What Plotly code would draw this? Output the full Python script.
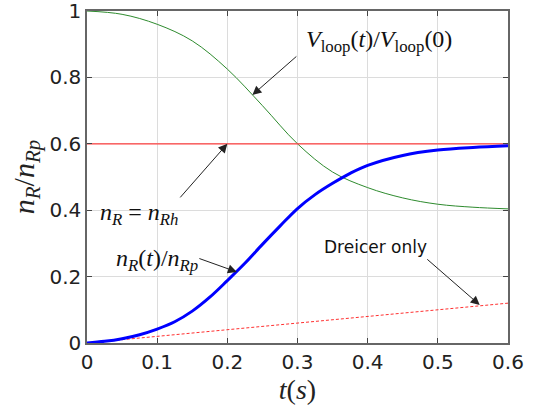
import plotly.graph_objects as go

t_v = [0, 0.05, 0.1, 0.15, 0.2, 0.25, 0.3, 0.35, 0.4, 0.45, 0.5, 0.55, 0.6]
vloop = [1.0, 0.99, 0.96, 0.91, 0.825, 0.715, 0.60, 0.515, 0.468, 0.437, 0.418, 0.409, 0.404]
t_n = [0, 0.025, 0.05, 0.075, 0.1, 0.125, 0.15, 0.175, 0.2, 0.225, 0.25, 0.275, 0.3,
       0.325, 0.35, 0.375, 0.4, 0.45, 0.5, 0.55, 0.6]
nR = [0.0, 0.005, 0.013, 0.025, 0.042, 0.064, 0.096, 0.138, 0.188, 0.240, 0.297, 0.352, 0.405,
      0.447, 0.481, 0.511, 0.535, 0.565, 0.581, 0.589, 0.594]
t_line = [0, 0.6]
nRh = [0.6, 0.6]
dreicer = [0.0, 0.12]

xticks = [0, 0.1, 0.2, 0.3, 0.4, 0.5, 0.6]
yticks = [0, 0.2, 0.4, 0.6, 0.8, 1]

MATH = "Liberation Serif"
TICKF = "DejaVu Sans"

fig = go.Figure()
fig.add_trace(go.Scatter(x=t_v, y=vloop, mode="lines", line=dict(color="#2e8b2e", width=1, shape="spline"), hoverinfo="skip"))
fig.add_trace(go.Scatter(x=t_line, y=nRh, mode="lines", line=dict(color="#ff4040", width=1.2), hoverinfo="skip"))
fig.add_trace(go.Scatter(x=t_line, y=dreicer, mode="lines", line=dict(color="#ff3030", width=1, dash="3px,2px"), hoverinfo="skip"))
fig.add_trace(go.Scatter(x=t_n, y=nR, mode="lines", line=dict(color="#0000ff", width=3, shape="spline"), hoverinfo="skip"))

def arrow(x, y, ax, ay):
    fig.add_annotation(x=x, y=y, ax=ax, ay=ay, xref="x", yref="y", axref="x", ayref="y",
                       text="", showarrow=True, arrowhead=2, arrowsize=1.8, arrowwidth=1,
                       arrowcolor="#222")

def label(x, y, text, font, size):
    fig.add_annotation(x=x, y=y, xref="x", yref="y", text=text, showarrow=False,
                       font=dict(family=font, size=size, color="#111"))

arrow(0.2357, 0.747, 0.3005, 0.867)
arrow(0.2, 0.6, 0.131, 0.434)
arrow(0.2136, 0.214, 0.158, 0.256)
arrow(0.5597, 0.1145, 0.4828, 0.256)

label(0.416, 0.91, "<i>V</i><sub>loop</sub>(<i>t</i>)/<i>V</i><sub>loop</sub>(0)", MATH, 24)
label(0.074, 0.39, "<i>n</i><sub><i>R</i></sub> = <i>n</i><sub><i>Rh</i></sub>", MATH, 24)
label(0.0997, 0.25, "<i>n</i><sub><i>R</i></sub>(<i>t</i>)/<i>n</i><sub><i>Rp</i></sub>", MATH, 24)
label(0.4115, 0.289, "Dreicer only", TICKF, 17)

axis_common = dict(showline=True, linecolor="#666", linewidth=1.5, mirror="ticks",
                   ticks="inside", ticklen=5, tickcolor="#444", showgrid=True,
                   gridcolor="#dcdcdc", gridwidth=1, zeroline=False, automargin=False,
                   ticklabeloverflow="allow",
                   tickfont=dict(family=TICKF, size=20, color="#222"))

fig.update_xaxes(range=[0, 0.6], tickvals=xticks, ticktext=[str(v) for v in xticks],
                 title=dict(text="<i>t</i>(<i>s</i>)", font=dict(family=MATH, size=28, color="#222"), standoff=0),
                 **axis_common)
fig.update_yaxes(range=[0, 1], tickvals=yticks, ticktext=[str(v) for v in yticks],
                 title=dict(text="<i>n</i><sub><i>R</i></sub>/<i>n</i><sub><i>Rp</i></sub>", font=dict(family=MATH, size=30, color="#222"), standoff=6),
                 **axis_common)

fig.update_layout(width=537, height=407, margin=dict(l=87, r=29, t=11, b=64),
                  paper_bgcolor="white", plot_bgcolor="white", showlegend=False)

fig.write_html("out.html")
